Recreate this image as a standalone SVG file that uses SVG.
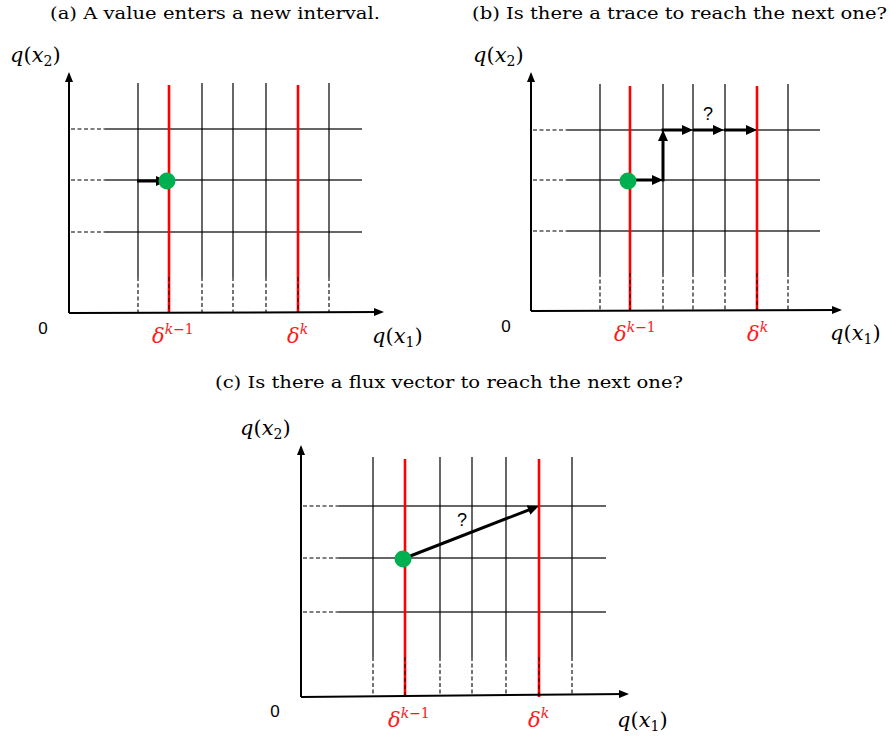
<svg xmlns="http://www.w3.org/2000/svg" width="890" height="738" viewBox="0 0 890 738">
<style>
.title{font-family:'DejaVu Serif','Liberation Serif',serif;font-size:16px;fill:#000}
.math{font-family:'DejaVu Serif','Liberation Serif',serif;font-size:21px;fill:#000}
.it{font-style:italic}
.sub{font-size:14px}
.red{fill:#ff1a1a}
.sans{font-family:'Liberation Sans',Arial,sans-serif;font-size:17px;fill:#000}
.q{font-family:'Liberation Sans',Arial,sans-serif;font-size:18px;fill:#000}
.axis{stroke:#000;stroke-width:2;fill:none}
.hl{stroke:#333;stroke-width:1.3;fill:none}
.vl{stroke:#000;stroke-width:1.2;fill:none}
.dash{stroke:#000;stroke-width:1.1;stroke-dasharray:4 2.5;fill:none}
.rl{stroke:#ff0000;stroke-width:2.6;fill:none}
.rdash{stroke:#000;stroke-width:0.8;stroke-dasharray:4 3;fill:none}
.arr{stroke:#000;stroke-width:3;fill:none}
.dot{fill:#00b050}
</style>
<defs>
<marker id="ax" markerUnits="userSpaceOnUse" markerWidth="10" markerHeight="8" refX="8" refY="4" orient="auto">
<path d="M0,0 L10,4 L0,8 z" fill="#000"/>
</marker>
<marker id="ah" markerUnits="userSpaceOnUse" markerWidth="11" markerHeight="10" refX="7" refY="5" orient="auto">
<path d="M0,0 L11,5 L0,10 z" fill="#000"/>
</marker>
</defs>

<!-- Panel (a) -->
<g id="panel-a">
<text class="title" x="50" y="19" textLength="330" lengthAdjust="spacingAndGlyphs">(a) A value enters a new interval.</text>
<g id="a-grid">
<line class="hl" x1="105" y1="129" x2="362" y2="129"/>
<line class="hl" x1="105" y1="180" x2="362" y2="180"/>
<line class="hl" x1="105" y1="232" x2="362" y2="232"/>
<line class="dash" x1="71" y1="129" x2="105" y2="129"/>
<line class="dash" x1="71" y1="180" x2="105" y2="180"/>
<line class="dash" x1="71" y1="232" x2="105" y2="232"/>
<line class="vl" x1="138" y1="83" x2="138" y2="277"/>
<line class="vl" x1="202" y1="83" x2="202" y2="277"/>
<line class="vl" x1="233" y1="83" x2="233" y2="277"/>
<line class="vl" x1="266" y1="83" x2="266" y2="277"/>
<line class="vl" x1="329" y1="83" x2="329" y2="277"/>
<line class="dash" x1="138" y1="277" x2="138" y2="312"/>
<line class="dash" x1="202" y1="277" x2="202" y2="312"/>
<line class="dash" x1="233" y1="277" x2="233" y2="312"/>
<line class="dash" x1="266" y1="277" x2="266" y2="312"/>
<line class="dash" x1="329" y1="277" x2="329" y2="312"/>
<line class="rl" x1="169" y1="85" x2="169" y2="313"/>
<line class="rl" x1="298" y1="85" x2="298" y2="313"/>
<line class="rdash" x1="169" y1="277" x2="169" y2="312"/>
<line class="rdash" x1="298" y1="277" x2="298" y2="312"/>
</g>
<g id="a-axes">
<line class="axis" x1="69" y1="313" x2="382" y2="312" marker-end="url(#ax)"/>
<line class="axis" x1="69" y1="313" x2="69" y2="74" marker-end="url(#ax)"/>
</g>
<g id="a-connectors">
<line class="arr" x1="137" y1="181" x2="163" y2="181" marker-end="url(#ah)"/>
</g>
<g id="a-dot"><circle class="dot" cx="167" cy="181" r="8.5"/></g>
<text class="math" x="10" y="62"><tspan class="it">q</tspan>(<tspan class="it">x</tspan><tspan class="sub" dy="4">2</tspan><tspan dy="-4">)</tspan></text>
<text class="sans" x="43" y="334" text-anchor="middle">0</text>
<text class="math red" x="152" y="343"><tspan class="it">δ</tspan><tspan class="sub it" dy="-9">k</tspan><tspan class="sub">−1</tspan></text>
<text class="math red" x="287" y="343"><tspan class="it">δ</tspan><tspan class="sub it" dy="-9">k</tspan></text>
<text class="math" x="372" y="343"><tspan class="it">q</tspan>(<tspan class="it">x</tspan><tspan class="sub" dy="4">1</tspan><tspan dy="-4">)</tspan></text>
</g>

<!-- Panel (b) -->
<g id="panel-b">
<text class="title" x="472" y="19" textLength="415" lengthAdjust="spacingAndGlyphs">(b) Is there a trace to reach the next one?</text>
<g id="b-grid">
<line class="hl" x1="567" y1="130" x2="820" y2="130"/>
<line class="hl" x1="567" y1="180" x2="820" y2="180"/>
<line class="hl" x1="567" y1="231" x2="820" y2="231"/>
<line class="dash" x1="533" y1="130" x2="567" y2="130"/>
<line class="dash" x1="533" y1="180" x2="567" y2="180"/>
<line class="dash" x1="533" y1="231" x2="567" y2="231"/>
<line class="vl" x1="600" y1="84" x2="600" y2="273"/>
<line class="vl" x1="663" y1="84" x2="663" y2="273"/>
<line class="vl" x1="693" y1="84" x2="693" y2="273"/>
<line class="vl" x1="725" y1="84" x2="725" y2="273"/>
<line class="vl" x1="788" y1="84" x2="788" y2="273"/>
<line class="dash" x1="600" y1="273" x2="600" y2="310"/>
<line class="dash" x1="663" y1="273" x2="663" y2="310"/>
<line class="dash" x1="693" y1="273" x2="693" y2="310"/>
<line class="dash" x1="725" y1="273" x2="725" y2="310"/>
<line class="dash" x1="788" y1="273" x2="788" y2="310"/>
<line class="rl" x1="630" y1="86" x2="630" y2="311"/>
<line class="rl" x1="757" y1="86" x2="757" y2="311"/>
<line class="rdash" x1="630" y1="273" x2="630" y2="310"/>
<line class="rdash" x1="757" y1="273" x2="757" y2="310"/>
</g>
<g id="b-axes">
<line class="axis" x1="531" y1="311" x2="840" y2="310" marker-end="url(#ax)"/>
<line class="axis" x1="531" y1="311" x2="531" y2="74" marker-end="url(#ax)"/>
</g>
<g id="b-connectors">
<line class="arr" x1="634" y1="180" x2="659" y2="180" marker-end="url(#ah)"/>
<line class="arr" x1="663" y1="181.5" x2="663" y2="134" marker-end="url(#ah)"/>
<line class="arr" x1="661.5" y1="130" x2="689" y2="130" marker-end="url(#ah)"/>
<line class="arr" x1="693" y1="130" x2="720" y2="130" marker-end="url(#ah)"/>
<line class="arr" x1="724" y1="130" x2="753" y2="130" marker-end="url(#ah)"/>
</g>
<g id="b-dot"><circle class="dot" cx="628" cy="181" r="8.5"/></g>
<text class="q" x="708" y="120" text-anchor="middle">?</text>
<text class="math" x="473" y="62"><tspan class="it">q</tspan>(<tspan class="it">x</tspan><tspan class="sub" dy="4">2</tspan><tspan dy="-4">)</tspan></text>
<text class="sans" x="506" y="332" text-anchor="middle">0</text>
<text class="math red" x="614" y="341"><tspan class="it">δ</tspan><tspan class="sub it" dy="-9">k</tspan><tspan class="sub">−1</tspan></text>
<text class="math red" x="747" y="341"><tspan class="it">δ</tspan><tspan class="sub it" dy="-9">k</tspan></text>
<text class="math" x="830" y="340"><tspan class="it">q</tspan>(<tspan class="it">x</tspan><tspan class="sub" dy="4">1</tspan><tspan dy="-4">)</tspan></text>
</g>

<!-- Panel (c) -->
<g id="panel-c">
<text class="title" x="215" y="388" textLength="468" lengthAdjust="spacingAndGlyphs">(c) Is there a flux vector to reach the next one?</text>
<g id="c-grid">
<line class="hl" x1="339" y1="506" x2="606" y2="506"/>
<line class="hl" x1="339" y1="558" x2="606" y2="558"/>
<line class="hl" x1="339" y1="612" x2="606" y2="612"/>
<line class="dash" x1="303" y1="506" x2="339" y2="506"/>
<line class="dash" x1="303" y1="558" x2="339" y2="558"/>
<line class="dash" x1="303" y1="612" x2="339" y2="612"/>
<line class="vl" x1="373" y1="457" x2="373" y2="657"/>
<line class="vl" x1="440" y1="457" x2="440" y2="657"/>
<line class="vl" x1="472" y1="457" x2="472" y2="657"/>
<line class="vl" x1="506" y1="457" x2="506" y2="657"/>
<line class="vl" x1="572" y1="457" x2="572" y2="657"/>
<line class="dash" x1="373" y1="657" x2="373" y2="696"/>
<line class="dash" x1="440" y1="657" x2="440" y2="696"/>
<line class="dash" x1="472" y1="657" x2="472" y2="696"/>
<line class="dash" x1="506" y1="657" x2="506" y2="696"/>
<line class="dash" x1="572" y1="657" x2="572" y2="696"/>
<line class="rl" x1="405" y1="459" x2="405" y2="697"/>
<line class="rl" x1="539" y1="459" x2="539" y2="697"/>
<line class="rdash" x1="405" y1="657" x2="405" y2="696"/>
<line class="rdash" x1="539" y1="657" x2="539" y2="696"/>
</g>
<g id="c-axes">
<line class="axis" x1="301" y1="697" x2="627" y2="694" marker-end="url(#ax)"/>
<line class="axis" x1="301" y1="697" x2="301" y2="447" marker-end="url(#ax)"/>
</g>
<g id="c-connectors">
<line class="arr" x1="409" y1="556.5" x2="535" y2="507.5" marker-end="url(#ah)"/>
</g>
<g id="c-dot"><circle class="dot" cx="403" cy="559" r="8.5"/></g>
<text class="q" x="462" y="526" text-anchor="middle">?</text>
<text class="math" x="240" y="435"><tspan class="it">q</tspan>(<tspan class="it">x</tspan><tspan class="sub" dy="4">2</tspan><tspan dy="-4">)</tspan></text>
<text class="sans" x="275" y="717" text-anchor="middle">0</text>
<text class="math red" x="388" y="727"><tspan class="it">δ</tspan><tspan class="sub it" dy="-9">k</tspan><tspan class="sub">−1</tspan></text>
<text class="math red" x="528" y="727"><tspan class="it">δ</tspan><tspan class="sub it" dy="-9">k</tspan></text>
<text class="math" x="617" y="727"><tspan class="it">q</tspan>(<tspan class="it">x</tspan><tspan class="sub" dy="4">1</tspan><tspan dy="-4">)</tspan></text>
</g>
</svg>
